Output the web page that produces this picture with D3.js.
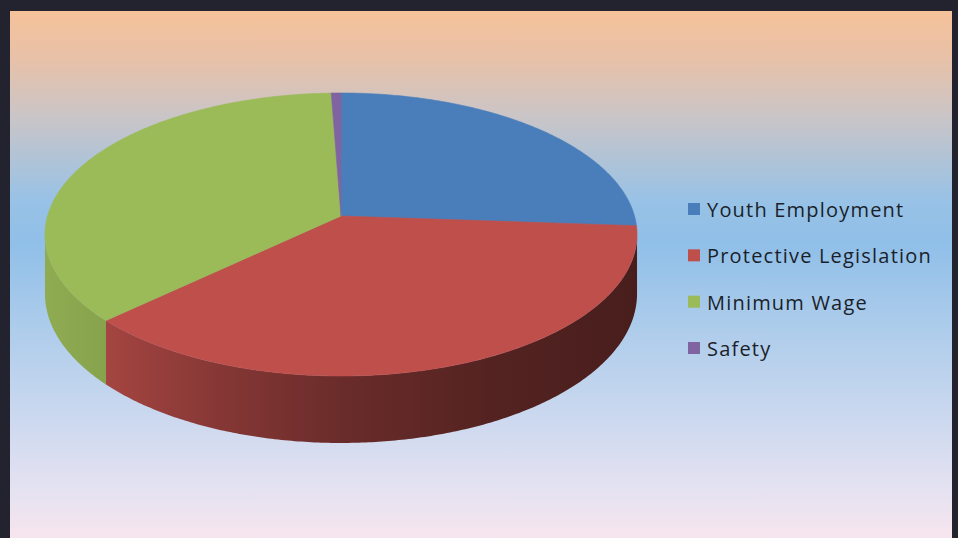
<!DOCTYPE html>
<html>
<head>
<meta charset="utf-8">
<script src="https://cdn.jsdelivr.net/npm/d3@7"></script>
<style>
  html, body { margin: 0; padding: 0; background: #23232f; }
  svg { display: block; }
</style>
</head>
<body>
<svg id="chart" width="958" height="538"></svg>
<script>
// Survey topics and their shares
const categories = ["Youth Employment", "Protective Legislation", "Minimum Wage", "Safety"];
const values = [26.1, 36.9, 36.4, 0.6];
const colors = ["#4a7ebb", "#be4f4b", "#9bbb59", "#8064a2"];

const W = 958, H = 538;
const svg = d3.select("#chart");
const defs = svg.append("defs");

// Panel background
const bg = defs.append("linearGradient").attr("id", "bg")
  .attr("x1", 0).attr("y1", 0).attr("x2", 0).attr("y2", 1);
[[0, "#f5c29a"], [0.09, "#e8c1a8"], [0.2, "#cac5c7"], [0.36, "#98c2e6"],
 [0.44, "#90bfe8"], [0.6, "#adcceb"], [0.78, "#cdd9ef"], [0.91, "#e5e2f1"], [1, "#f7e5ee"]]
  .forEach(([o, c]) => bg.append("stop").attr("offset", o).attr("stop-color", c));

const panel = { x: 10, y: 11, w: 942, h: 527 };
svg.append("rect").attr("x", panel.x).attr("y", panel.y)
  .attr("width", panel.w).attr("height", panel.h).attr("fill", "url(#bg)");

// Perspective disc geometry
const cx = 341, cy = 216;       // projected centre of the top face
const A = 293.5, B = 139.1;     // horizontal / vertical radii before perspective
const k = 0.1307;               // perspective strength
const depth = 58.2;             // thickness of the pie

function proj(theta, drop) {
  const u = Math.sin(theta), w = Math.cos(theta);
  const s = 1 / (1 + k * w);
  return [cx + A * u * s, cy - B * w * s + drop * depth * s];
}

const pie = d3.pie().sort(null).value(d => d)
  .startAngle(0).endAngle(2 * Math.PI);
const arcs = pie(values);

// Angle range where the outer wall faces the viewer
const va = Math.acos(-k), vb = 2 * Math.PI - va;

function arcPoints(a0, a1, drop) {
  const n = Math.max(2, Math.ceil((a1 - a0) / 0.01));
  const pts = [];
  for (let i = 0; i <= n; i++) pts.push(proj(a0 + (a1 - a0) * i / n, drop));
  return pts;
}

const line = d3.line();

// Wall shading across the width of the pie
const shade = [[0, 0.92], [0.1, 0.87], [0.3, 0.7], [0.5, 0.56], [0.75, 0.44], [1, 0.38]];
const xLeft = cx - A * 1.01, xRight = cx + A * 1.01;

const walls = svg.append("g");
arcs.forEach((a, i) => {
  const s0 = Math.max(a.startAngle, va), s1 = Math.min(a.endAngle, vb);
  if (s1 <= s0) return;
  const gid = "wall" + i;
  const g = defs.append("linearGradient").attr("id", gid)
    .attr("gradientUnits", "userSpaceOnUse")
    .attr("x1", xLeft).attr("y1", 0).attr("x2", xRight).attr("y2", 0);
  const base = d3.rgb(colors[i]);
  shade.forEach(([o, f]) => g.append("stop").attr("offset", o)
    .attr("stop-color", d3.rgb(base.r * f, base.g * f, base.b * f).formatHex()));
  const top = arcPoints(s0, s1, 0);
  const bottom = arcPoints(s0, s1, 1).reverse();
  walls.append("path")
    .attr("d", line(top.concat(bottom)) + "Z")
    .attr("fill", `url(#${gid})`);
});

// Top faces
const tops = svg.append("g");
arcs.forEach((a, i) => {
  const pts = [[cx, cy]].concat(arcPoints(a.startAngle, a.endAngle, 0));
  tops.append("path")
    .attr("d", line(pts) + "Z")
    .attr("fill", colors[i])
    .attr("stroke", colors[i]).attr("stroke-width", 0.6);
});

// Legend
const legend = svg.append("g").attr("transform", "translate(688,0)");
const rowY = d3.scalePoint().domain(categories).range([217, 356]);
categories.forEach((c, i) => {
  const y = rowY(c);
  legend.append("rect").attr("x", 0).attr("y", y - 14)
    .attr("width", 12).attr("height", 12).attr("fill", colors[i]);
  legend.append("text").attr("x", 19).attr("y", y)
    .attr("font-family", "'Open Sans', sans-serif").attr("font-size", 20)
    .attr("letter-spacing", 1.2)
    .attr("fill", "#1a1f2a").text(c);
});
</script>
</body>
</html>
